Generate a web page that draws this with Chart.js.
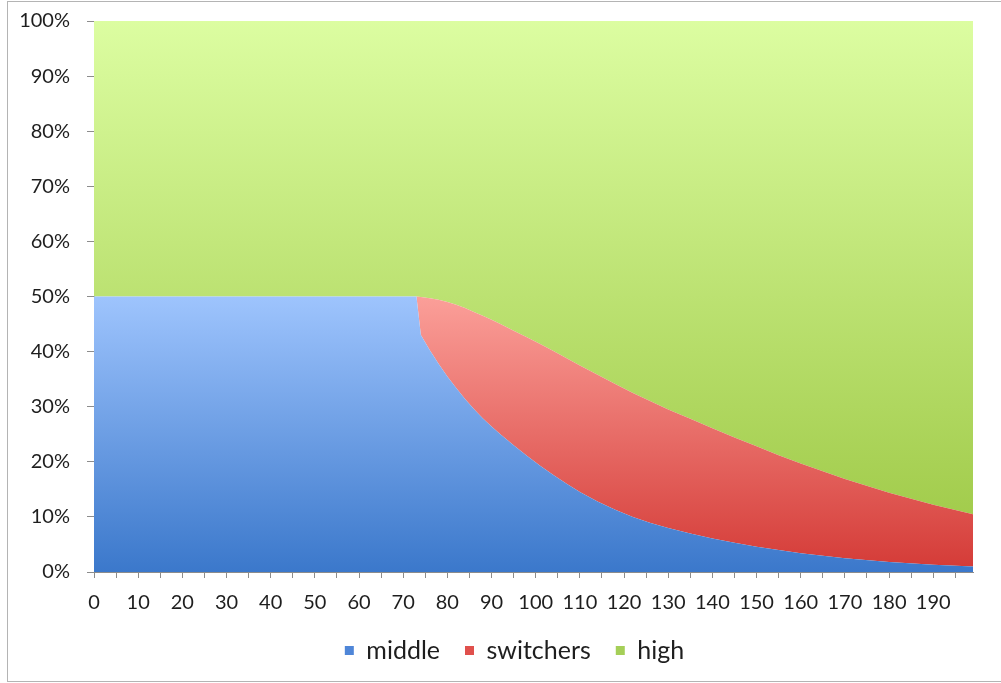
<!DOCTYPE html>
<html>
<head>
<meta charset="utf-8">
<script src="https://cdn.jsdelivr.net/npm/chart.js@4/dist/chart.umd.min.js"></script>
<style>
  html, body { margin: 0; padding: 0; background: #fff; }
  canvas { display: block; }
</style>
</head>
<body>
<canvas id="myChart" width="1001" height="683"></canvas>
<script>
// share of each group, in percent
const xValues   = [0, 73, 74, 76, 78, 80, 82, 84, 86, 88, 90, 92, 95, 98, 101, 104, 107, 110, 114, 118, 122, 126, 130, 135, 140, 145, 150, 155, 160, 170, 180, 190, 199];
const middle    = [50, 50, 43.0, 40.3, 37.8, 35.5, 33.4, 31.4, 29.6, 27.9, 26.4, 25.0, 23.0, 21.1, 19.3, 17.6, 16.0, 14.5, 12.8, 11.3, 10.0, 8.9, 8.0, 7.0, 6.1, 5.3, 4.6, 4.0, 3.4, 2.5, 1.8, 1.3, 1.0];
const switchers = [0, 0, 6.9, 9.4, 11.6, 13.5, 15.1, 16.5, 17.6, 18.6, 19.4, 20.0, 20.8, 21.5, 22.1, 22.5, 22.8, 23.0, 23.0, 22.8, 22.5, 22.1, 21.5, 20.8, 20.0, 19.1, 18.2, 17.2, 16.3, 14.4, 12.6, 10.9, 9.5];
const high      = [50, 50, 50.1, 50.3, 50.6, 51.0, 51.5, 52.1, 52.8, 53.5, 54.2, 55.0, 56.2, 57.4, 58.6, 59.9, 61.2, 62.5, 64.2, 65.9, 67.5, 69.0, 70.5, 72.2, 73.9, 75.6, 77.2, 78.8, 80.3, 83.1, 85.6, 87.8, 89.5];

const xTicks = [0, 5, 10, 15, 20, 25, 30, 35, 40, 45, 50, 55, 60, 65, 70, 75, 80, 85, 90, 95,
  100, 105, 110, 115, 120, 125, 130, 135, 140, 145, 150, 155, 160, 165, 170, 175, 180, 185, 190, 195];
const yTicks = [0, 10, 20, 30, 40, 50, 60, 70, 80, 90, 100];

const COLORS = {
  axis: '#8c8c8c',
  text: '#1e1e1e',
  frame: '#b4b4b4',
  middle: ['#9ec4fd', '#3b78cb'],
  switchers: ['#fb9f99', '#d43a36'],
  high: ['#dcfda1', '#a2cc4c'],
  legend: { middle: '#4f86d8', switchers: '#e0504c', high: '#a5cf58' }
};

const FONT = 'Lato, "Open Sans", sans-serif';

function gradient(colors, fromPct, toPct) {
  return (context) => {
    const chart = context.chart;
    const { ctx, chartArea, scales } = chart;
    if (!chartArea) return colors[1];
    const y0 = scales.y.getPixelForValue(fromPct);
    const y1 = scales.y.getPixelForValue(toPct);
    const g = ctx.createLinearGradient(0, y0, 0, y1);
    g.addColorStop(0, colors[0]);
    g.addColorStop(1, colors[1]);
    return g;
  };
}

function points(values) {
  return values.map((v, i) => ({ x: xValues[i], y: v }));
}

const framePlugin = {
  id: 'frame',
  afterLayout(chart) {
    // legend sits a bit right of the plot centre in the original
    if (chart.legend) {
      chart.legend.left += 28;
      chart.legend.right += 28;
    }
  },
  beforeDraw(chart) {
    const ctx = chart.ctx;
    ctx.save();
    ctx.fillStyle = '#fff';
    ctx.fillRect(0, 0, chart.width, chart.height);
    ctx.strokeStyle = COLORS.frame;
    ctx.lineWidth = 1;
    ctx.strokeRect(7.5, 1.5, chart.width, chart.height - 3);
    ctx.restore();
  }
};

const ctx = document.getElementById('myChart');

const myChart = new Chart(ctx, {
  type: 'line',
  plugins: [framePlugin],
  data: {
    datasets: [{
      label: 'middle',
      data: points(middle),
      backgroundColor: gradient(COLORS.middle, 50, 0),
      fill: 'origin'
    }, {
      label: 'switchers',
      data: points(switchers),
      backgroundColor: gradient(COLORS.switchers, 50, 0),
      fill: '-1'
    }, {
      label: 'high',
      data: points(high),
      backgroundColor: gradient(COLORS.high, 100, 10),
      fill: '-1'
    }]
  },
  options: {
    responsive: false,
    animation: false,
    devicePixelRatio: 1,
    elements: {
      line: { borderWidth: 0, tension: 0 },
      point: { radius: 0, hoverRadius: 0 }
    },
    layout: {
      padding: { left: 0, right: 28, top: 21, bottom: 10 }
    },
    scales: {
      x: {
        type: 'linear',
        min: 0,
        max: 199,
        afterBuildTicks: (scale) => {
          scale.ticks = xTicks.map(v => ({ value: v }));
        },
        afterFit: (scale) => { scale.height = 41; },
        grid: { drawOnChartArea: false, color: COLORS.axis, tickLength: 6 },
        border: { color: COLORS.axis },
        ticks: {
          autoSkip: false,
          maxRotation: 0,
          padding: 13,
          color: COLORS.text,
          font: { family: FONT, size: 20 },
          callback: (v) => (v % 10 === 0 ? String(v) : '')
        }
      },
      y: {
        stacked: true,
        min: 0,
        max: 100,
        afterBuildTicks: (scale) => {
          scale.ticks = yTicks.map(v => ({ value: v }));
        },
        afterFit: (scale) => {
          scale.width = 94;
          scale.paddingTop = 0;
        },
        grid: { drawOnChartArea: false, color: COLORS.axis, tickLength: 7 },
        border: { color: COLORS.axis },
        ticks: {
          padding: 17,
          color: COLORS.text,
          font: { family: FONT, size: 20 },
          callback: (v) => v + '%'
        }
      }
    },
    plugins: {
      tooltip: { enabled: false },
      legend: {
        position: 'bottom',
        labels: {
          boxWidth: 9,
          boxHeight: 9,
          padding: 25,
          color: COLORS.text,
          font: { family: FONT, size: 25 },
          generateLabels: (chart) => chart.data.datasets.map((ds, i) => ({
            text: ds.label,
            fillStyle: COLORS.legend[ds.label],
            strokeStyle: COLORS.legend[ds.label],
            lineWidth: 0,
            hidden: false,
            datasetIndex: i,
            fontColor: COLORS.text
          }))
        }
      }
    }
  }
});
</script>
</body>
</html>
